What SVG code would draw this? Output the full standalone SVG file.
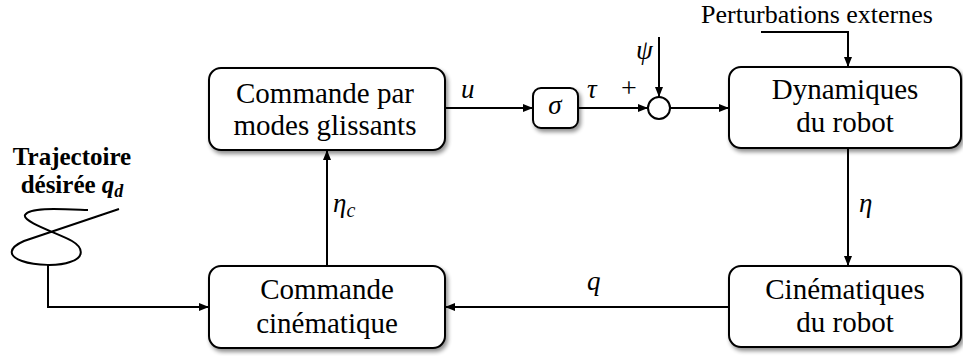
<svg xmlns="http://www.w3.org/2000/svg" width="963" height="356" viewBox="0 0 963 356">
<defs>
<filter id="sh" x="-10%" y="-10%" width="125%" height="140%">
<feGaussianBlur in="SourceAlpha" stdDeviation="2"/>
<feOffset dx="2" dy="3" result="b"/>
<feComponentTransfer><feFuncA type="linear" slope="0.45"/></feComponentTransfer>
<feMerge><feMergeNode/><feMergeNode in="SourceGraphic"/></feMerge>
</filter>
<marker id="ah" viewBox="0 0 10 10" refX="10" refY="5" markerWidth="10" markerHeight="10" markerUnits="userSpaceOnUse" orient="auto">
<path d="M0,1 L10,5 L0,9 Z" fill="#000"/>
</marker>
</defs>
<style>
.box{fill:#fff;stroke:#000;stroke-width:2;filter:url(#sh)}
.c{fill:none;stroke:#000;stroke-width:2}
.a{marker-end:url(#ah)}
.t{font-family:'Liberation Serif',serif;font-size:29px;fill:#000;text-anchor:middle}
.m{font-family:'Liberation Serif',serif;font-style:italic;font-size:27px;fill:#000}
.s{font-family:'Liberation Serif',serif;fill:#000}
</style>
<rect width="963" height="356" fill="#fff"/>
<g id="connectors">
<path class="c a" d="M445,108 H533"/>
<path class="c a" d="M578,108 H648"/>
<path class="c a" d="M659,37 V97"/>
<path class="c a" d="M670,108 H729"/>
<path class="c a" d="M761,32 H848 V67"/>
<path class="c a" d="M848,148 V266"/>
<path class="c a" d="M729,307 H445"/>
<path class="c a" d="M327,266 V150"/>
<path class="c a" d="M48,265 V307 H209"/>
</g>
<g id="trajectoire">
<path class="c" d="M88,210 C60,209 30,207 25,215 C22,222 60,234 72,241 C84,248 84,258 70,262 C60,266 36,266 22,261 C8,256 8,248 24,241 L119,209"/>
<text class="s" x="72" y="165" font-weight="bold" font-size="25" text-anchor="middle">Trajectoire</text>
<text class="s" x="72" y="193" font-weight="bold" font-size="25" text-anchor="middle">désirée <tspan font-style="italic">q</tspan><tspan font-style="italic" font-size="18" dy="4">d</tspan></text>
</g>
<g id="smc">
<rect class="box" x="209" y="68" width="236" height="82" rx="12"/>
<text class="t" x="325" y="103">Commande par</text>
<text class="t" x="325" y="135">modes glissants</text>
</g>
<g id="sigma">
<rect class="box" x="533" y="88" width="45" height="40" rx="8"/>
<text class="m" x="555" y="114" text-anchor="middle">σ</text>
</g>
<g id="sum">
<circle cx="659" cy="108" r="11" fill="#fff" stroke="#000" stroke-width="2"/>
</g>
<g id="dyn">
<rect class="box" x="729" y="67" width="232" height="81" rx="12"/>
<text class="t" x="845" y="99">Dynamiques</text>
<text class="t" x="845" y="132">du robot</text>
</g>
<g id="cin">
<rect class="box" x="729" y="266" width="232" height="81" rx="12"/>
<text class="t" x="845" y="299">Cinématiques</text>
<text class="t" x="845" y="332">du robot</text>
</g>
<g id="cc">
<rect class="box" x="209" y="266" width="236" height="82" rx="12"/>
<text class="t" x="327" y="299">Commande</text>
<text class="t" x="327" y="333">cinématique</text>
</g>
<g id="labels">
<text class="s" x="817" y="23" font-size="26" text-anchor="middle">Perturbations externes</text>
<text class="m" x="461" y="98">u</text>
<text class="m" x="587" y="98">τ</text>
<text class="s" x="629" y="97" font-size="28" text-anchor="middle">+</text>
<text class="m" x="636" y="59" font-size="29">ψ</text>
<text class="m" x="859" y="212">η</text>
<text class="m" x="333" y="212">η<tspan font-size="20" dy="5">c</tspan></text>
<text class="m" x="587" y="290">q</text>
</g>
</svg>
